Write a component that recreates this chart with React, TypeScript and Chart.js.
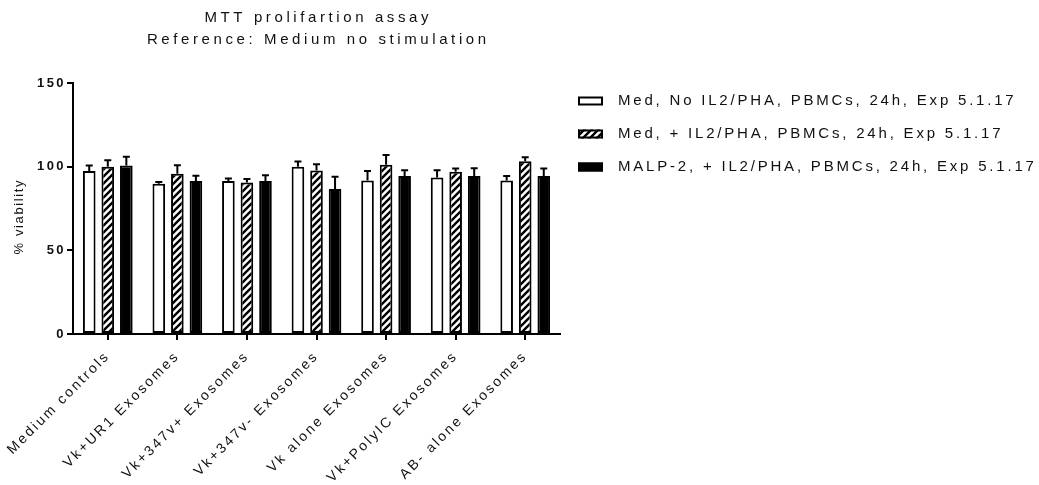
import React, { useEffect, useRef } from "react";
import { Chart, registerables } from "chart.js";

Chart.register(...registerables);

const categories = [
  "Medium controls",
  "Vk+UR1 Exosomes",
  "Vk+347v+ Exosomes",
  "Vk+347v- Exosomes",
  "Vk alone Exosomes",
  "Vk+PolyIC Exosomes",
  "AB- alone Exosomes",
];
const seriesLabels = [
  "Med, No IL2/PHA, PBMCs, 24h, Exp 5.1.17",
  "Med, + IL2/PHA, PBMCs, 24h, Exp 5.1.17",
  "MALP-2, + IL2/PHA, PBMCs, 24h, Exp 5.1.17",
];
const medNoIL2 = [97.4, 89.8, 91.4, 99.9, 91.8, 93.6, 91.8];
const medNoIL2Err = [3.3, 1.0, 1.6, 3.2, 5.6, 4.3, 2.6];
const medIL2 = [99.9, 95.8, 90.6, 97.7, 101.1, 97.0, 103.3];
const medIL2Err = [4.0, 5.1, 2.0, 3.8, 5.8, 1.9, 2.4];
const malp2 = [100.7, 91.4, 91.4, 86.6, 94.4, 94.4, 94.4];
const malp2Err = [5.2, 3.2, 3.4, 7.4, 3.5, 4.7, 4.5];
const yTicks = [0, 50, 100, 150];
const titleLines = ["MTT prolifartion assay", "Reference: Medium no stimulation"];
const yTitle = "% viability";

const FONT = "Arial, 'Liberation Sans', sans-serif";

function makeHatch(): CanvasPattern | string {
  const s = 7;
  const c = document.createElement("canvas");
  c.width = s;
  c.height = s;
  const g = c.getContext("2d");
  if (!g) return "#fff";
  g.fillStyle = "#fff";
  g.fillRect(0, 0, s, s);
  g.strokeStyle = "#000";
  g.lineWidth = 2.4;
  g.beginPath();
  g.moveTo(-2, 2);
  g.lineTo(2, -2);
  g.moveTo(0, s);
  g.lineTo(s, 0);
  g.moveTo(s - 2, s + 2);
  g.lineTo(s + 2, s - 2);
  g.stroke();
  const p = g.createPattern(c, "repeat");
  return p || "#fff";
}

const SPACING = "2.4px";
const spacingPlugin = {
  id: "spacing",
  beforeUpdate(chart: any) {
    chart.ctx.letterSpacing = SPACING;
  },
  beforeLayout(chart: any) {
    chart.ctx.letterSpacing = SPACING;
  },
  beforeDraw(chart: any) {
    chart.ctx.letterSpacing = SPACING;
  },
};

const errorBarPlugin = {
  id: "errorBars",
  afterDatasetsDraw(chart: any) {
    const ctx = chart.ctx;
    const y = chart.scales.y;
    chart.data.datasets.forEach((ds: any, i: number) => {
      const meta = chart.getDatasetMeta(i);
      meta.data.forEach((bar: any, j: number) => {
        const v = ds.data[j];
        const e = ds.errors[j];
        const top = y.getPixelForValue(v + e);
        ctx.save();
        ctx.strokeStyle = "#000";
        ctx.lineWidth = 2;
        ctx.beginPath();
        ctx.moveTo(bar.x, bar.y);
        ctx.lineTo(bar.x, top);
        ctx.moveTo(bar.x - 3.5, top);
        ctx.lineTo(bar.x + 3.5, top);
        ctx.stroke();
        ctx.restore();
      });
    });
  },
};

const textPlugin = {
  id: "texts",
  afterDraw(chart: any) {
    const ctx = chart.ctx;
    const area = chart.chartArea;
    ctx.save();
    ctx.fillStyle = "#111";
    // titles
    ctx.font = `15px ${FONT}`;
    ctx.letterSpacing = "3.6px";
    ctx.textAlign = "center";
    ctx.textBaseline = "alphabetic";
    const cx = (area.left + area.right) / 2 + 1.8;
    ctx.fillText(titleLines[0], cx, 21.5);
    ctx.fillText(titleLines[1], cx, 43.5);
    // y title
    ctx.save();
    ctx.font = `13px ${FONT}`;
    ctx.letterSpacing = "1.6px";
    ctx.translate(23, (area.top + area.bottom) / 2 + 9);
    ctx.rotate(-Math.PI / 2);
    ctx.textAlign = "center";
    ctx.textBaseline = "alphabetic";
    ctx.fillText(yTitle, 0.8, 0);
    ctx.restore();
    // legend
    const rows = [101, 134, 167];
    ctx.font = `15px ${FONT}`;
    ctx.letterSpacing = "2.8px";
    ctx.textAlign = "left";
    ctx.textBaseline = "middle";
    chart.data.datasets.forEach((ds: any, i: number) => {
      const yc = rows[i];
      ctx.fillStyle = ds.backgroundColor;
      ctx.fillRect(578, yc - 4.5, 25, 9);
      ctx.strokeStyle = "#000";
      ctx.lineWidth = 2;
      ctx.strokeRect(579, yc - 3.5, 23, 7);
      ctx.fillStyle = "#111";
      ctx.fillText(ds.label, 618, yc);
    });
    ctx.restore();
  },
};

export default function App() {
  const ref = useRef<HTMLCanvasElement | null>(null);
  useEffect(() => {
    if (!ref.current) return;
    const hatch = makeHatch();
    const mk = (label: string, data: number[], errors: number[], bg: any) => ({
      label,
      data,
      errors,
      backgroundColor: bg,
      borderColor: "#000",
      borderWidth: 2,
      borderSkipped: false,
      categoryPercentage: 0.8,
      barPercentage: 0.68,
    });
    const chart = new Chart(ref.current, {
      type: "bar",
      data: {
        labels: categories,
        datasets: [
          mk(seriesLabels[0], medNoIL2, medNoIL2Err, "#ffffff"),
          mk(seriesLabels[1], medIL2, medIL2Err, hatch),
          mk(seriesLabels[2], malp2, malp2Err, "#000000"),
        ] as any,
      },
      options: {
        animation: false,
        responsive: false,
        devicePixelRatio: 1,
        layout: { padding: { top: 83, right: 479, left: 0, bottom: 0 } },
        plugins: {
          legend: { display: false },
          title: { display: false },
          tooltip: { enabled: false },
        },
        scales: {
          x: {
            grid: {
              display: true,
              offset: false,
              drawOnChartArea: false,
              drawTicks: true,
              tickLength: 6,
              color: "#000",
              lineWidth: 2,
            },
            border: { display: true, color: "#000", width: 2 },
            ticks: {
              color: "#111",
              font: { family: FONT, size: 14 },
              minRotation: 45,
              maxRotation: 45,
              autoSkip: false,
              padding: 8,
            },
            afterFit: (s: any) => {
              s.height = 151;
              s.paddingLeft = 0;
              s.paddingRight = 0;
            },
          },
          y: {
            min: 0,
            max: 150,
            afterBuildTicks: (s: any) => {
              s.ticks = yTicks.map((v) => ({ value: v }));
            },
            grid: {
              display: true,
              drawOnChartArea: false,
              drawTicks: true,
              tickLength: 6,
              color: "#000",
              lineWidth: 2,
            },
            border: { display: true, color: "#000", width: 2 },
            ticks: {
              color: "#111",
              font: { family: FONT, size: 13, weight: "bold" },
              padding: 1,
            },
            afterFit: (s: any) => {
              s.width = 73;
            },
          },
        },
      } as any,
      plugins: [spacingPlugin, errorBarPlugin, textPlugin],
    });
    return () => chart.destroy();
  }, []);
  return (
    <div style={{ position: "absolute", left: 0, top: 0, width: 1039, height: 485, background: "#fff" }}>
      <canvas ref={ref} width={1039} height={485} style={{ display: "block", width: 1039, height: 485 }} />
    </div>
  );
}
